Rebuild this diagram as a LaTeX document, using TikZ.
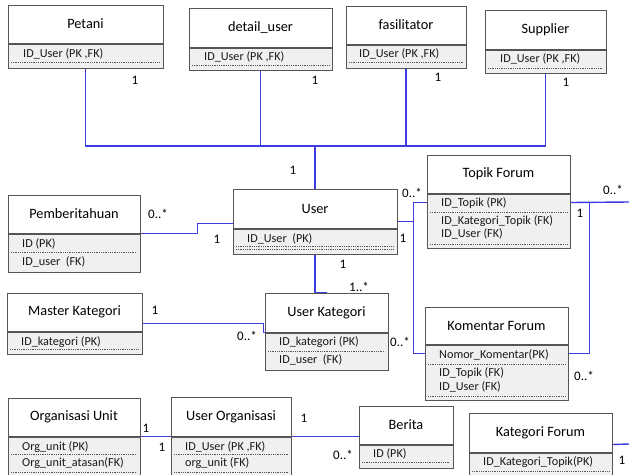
\documentclass[tikz,border=0pt]{standalone}
\usepackage{fontspec}
\setmainfont{Carlito}
\usetikzlibrary{positioning}
\definecolor{boxgray}{RGB}{85,85,85}
\definecolor{bodygray}{RGB}{240,240,240}
\definecolor{linkblue}{RGB}{60,60,225}
\tikzset{
  hdr/.style={draw=boxgray, fill=white, line width=1pt, inner sep=0pt, font=\fontsize{14.3}{16}\selectfont},
  body/.style={draw=boxgray, fill=bodygray, line width=1pt, inner sep=0pt},
  attr/.style={anchor=west, inner sep=0pt, font=\fontsize{12.2}{14}\selectfont, text=black!90},
  dotsep/.style={boxgray, line width=0.6pt, dash pattern=on 1pt off 0.8pt},
  conn/.style={linkblue, line width=1.4pt},
  mult/.style={inner sep=0pt, font=\fontsize{13}{15}\selectfont}
}

\begin{document}
\begin{tikzpicture}[x=1pt, y=-1pt]
    \useasboundingbox (0,0) rectangle (629,474);

    % top row
    \node[hdr, minimum width=155pt, minimum height=38pt] (petani) at (85.5,24) {Petani};
    \node[body, minimum width=155pt, minimum height=24pt, below=0pt of petani] (petani-a) {};
    \node[attr] (petani-1) at (23,54) {ID\_User (PK ,FK)};
    \draw[dotsep] (11,62) -- (160,62);

    \node[hdr, minimum width=143pt, minimum height=39pt] (detail) at (260.5,27.5) {detail\_user};
    \node[body, minimum width=143pt, minimum height=22pt, below=0pt of detail] (detail-a) {};
    \node[attr] (detail-1) at (204,57) {ID\_User (PK ,FK)};
    \draw[dotsep] (192,65) -- (329,65);

    \node[hdr, minimum width=120pt, minimum height=38pt] (fasil) at (406,25) {fasilitator};
    \node[body, minimum width=120pt, minimum height=23pt, below=0pt of fasil] (fasil-a) {};
    \node[attr] (fasil-1) at (359,54) {ID\_User (PK ,FK)};
    \draw[dotsep] (349,62) -- (463,62);

    \node[hdr, minimum width=121pt, minimum height=39pt] (supplier) at (545.5,29.5) {Supplier};
    \node[body, minimum width=121pt, minimum height=23pt, below=0pt of supplier] (supplier-a) {};
    \node[attr] (supplier-1) at (500,59) {ID\_User (PK ,FK)};
    \draw[dotsep] (488,68) -- (603,68);

    % middle
    \node[hdr, minimum width=164pt, minimum height=39pt] (user) at (315,208.5) {User};
    \node[body, minimum width=164pt, minimum height=25pt, below=0pt of user] (user-a) {};
    \node[attr] (user-1) at (247,239) {ID\_User~ (PK)};
    \draw[dotsep] (236,246) -- (394,246);
    \draw[dotsep] (236,249) -- (394,249);

    \node[hdr, minimum width=132pt, minimum height=38pt] (pemb) at (74,214) {Pemberitahuan};
    \node[body, minimum width=132pt, minimum height=38pt, below=0pt of pemb] (pemb-a) {};
    \node[attr] (pemb-1) at (22,244) {ID (PK)};
    \draw[dotsep] (11,252) -- (137,252);
    \node[attr] (pemb-2) at (22,262) {ID\_user~ (FK)};

    \node[hdr, minimum width=143pt, minimum height=38pt] (topik) at (498.5,174) {Topik Forum};
    \node[body, minimum width=143pt, minimum height=54pt, below=0pt of topik] (topik-a) {};
    \node[attr] (topik-1) at (441,203) {ID\_Topik (PK)};
    \draw[dotsep] (430,212) -- (567,212);
    \node[attr] (topik-2) at (441,221) {ID\_Kategori\_Topik (FK)};
    \node[attr] (topik-3) at (441,234) {ID\_User (FK)};
    \draw[dotsep] (430,244) -- (567,244);

    \node[hdr, minimum width=135pt, minimum height=38pt] (master) at (74.5,312) {Master Kategori};
    \node[body, minimum width=135pt, minimum height=22pt, below=0pt of master] (master-a) {};
    \node[attr] (master-1) at (21,342) {ID\_kategori (PK)};
    \draw[dotsep] (10,349) -- (139,349);

    \node[hdr, minimum width=123pt, minimum height=39pt] (ukat) at (326.5,312.5) {User Kategori};
    \node[body, minimum width=123pt, minimum height=37pt, below=0pt of ukat] (ukat-a) {};
    \node[attr] (ukat-1) at (279,342) {ID\_kategori (PK)};
    \draw[dotsep] (268,351) -- (385,351);
    \node[attr] (ukat-2) at (279,360) {ID\_user~ (FK)};

    \node[hdr, minimum width=143pt, minimum height=37pt] (komentar) at (496.5,325.5) {Komentar Forum};
    \node[body, minimum width=143pt, minimum height=55pt, below=0pt of komentar] (komentar-a) {};
    \node[attr] (komentar-1) at (439,355) {Nomor\_Komentar(PK)};
    \draw[dotsep] (428,364) -- (565,364);
    \node[attr] (komentar-2) at (439,373) {ID\_Topik (FK)};
    \node[attr] (komentar-3) at (439,387) {ID\_User (FK)};
    \draw[dotsep] (428,396) -- (565,396);

    % bottom row
    \node[hdr, minimum width=132pt, minimum height=38pt] (orgunit) at (74,417) {Organisasi Unit};
    \node[body, minimum width=132pt, minimum height=44pt, below=0pt of orgunit] (orgunit-a) {};
    \node[attr] (orgunit-1) at (22,447) {Org\_unit (PK)};
    \draw[dotsep] (11,454) -- (137,454);
    \node[attr] (orgunit-2) at (22,463) {Org\_unit\_atasan(FK)};
    \draw[dotsep] (11,472) -- (137,472);

    \node[hdr, minimum width=120pt, minimum height=39pt] (userorg) at (231,416.5) {User Organisasi};
    \node[body, minimum width=120pt, minimum height=44pt, below=0pt of userorg] (userorg-a) {};
    \node[attr] (userorg-1) at (185,447) {ID\_User (PK ,FK)};
    \draw[dotsep] (174,454) -- (288,454);
    \node[attr] (userorg-2) at (185,463) {org\_unit (FK)};
    \draw[dotsep] (174,472) -- (288,472);

    \node[hdr, minimum width=94pt, minimum height=38pt] (berita) at (406,425) {Berita};
    \node[body, minimum width=94pt, minimum height=23pt, below=0pt of berita] (berita-a) {};
    \node[attr] (berita-1) at (373,454) {ID (PK)};
    \draw[dotsep] (362,462) -- (450,462);

    \node[hdr, minimum width=143pt, minimum height=39pt] (katforum) at (540.5,432.5) {Kategori Forum};
    \node[body, minimum width=143pt, minimum height=30pt, below=0pt of katforum] (katforum-a) {};
    \node[attr] (katforum-1) at (483,462) {ID\_Kategori\_Topik(PK)};
    \draw[dotsep] (472,471) -- (609,471);

    % connectors
    \coordinate (bus) at (315,146);
    \draw[conn] (petani-a.south) |- (bus) -| (supplier-a.south);
    \draw[conn] (detail-a.south) -- (detail-a.south |- bus);
    \draw[conn] (fasil-a.south) -- (fasil-a.south |- bus);
    \draw[conn] (bus) -- (user.north);

    \draw[conn] (pemb.south east) -- ++(57,0) -- ++(0,-10) -- ([yshift=5pt]user.south west);

    \draw[conn] ([yshift=-9pt]topik.south west) -- ++(-13,0) coordinate (tk) |- ([yshift=-9pt]komentar.south west);
    \draw[conn] ([yshift=7pt]user.south east) -- ([yshift=7pt]user.south east -| tk);
    \draw[conn] ([yshift=-9pt]topik.south east) -- ++(19,0) |- ([yshift=-9pt]komentar.south east);
    \coordinate (eTop) at (629,202);
    \coordinate (eBot) at (629,444);
    \draw[conn] ([yshift=-9pt]topik.south east) -- (eTop);
    \draw[conn] ([yshift=8pt]katforum.south east) -- (eBot);

    \draw[conn] (user-a.south) -- (user-a.south |- ukat.north) -- ++(12,0);
    \draw[conn] ([yshift=8pt]master.south east) -- ++(121,0) |- (ukat.south west);

    \draw[conn] (orgunit.south east) -- (userorg.south west);
    \draw[conn] (userorg.south east) -- ([yshift=8pt]berita.south west);

    % multiplicities
    \node[mult] (m-petani) at (135,80) {1};
    \node[mult] (m-detail) at (315,80) {1};
    \node[mult] (m-fasil) at (438,77) {1};
    \node[mult] (m-supplier) at (566,82) {1};
    \node[mult] (m-user-top) at (293,170) {1};
    \node[mult] (m-pemb) at (158,214) {0..*};
    \node[mult] (m-user-left) at (217,239) {1};
    \node[mult] (m-topik-left) at (412,193) {0..*};
    \node[mult] (m-user-right) at (403,238) {1};
    \node[mult] (m-komentar-left) at (400,342) {0..*};
    \node[mult] (m-topik-right) at (580,213) {1};
    \node[mult] (m-komentar-right) at (584,376) {0..*};
    \node[mult] (m-topik-edge) at (613,190) {0..*};
    \node[mult] (m-katforum) at (622,460) {1};
    \node[mult] (m-user-bottom) at (343,264) {1};
    \node[mult] (m-ukat-top) at (359,287) {1..*};
    \node[mult] (m-master) at (155,310) {1};
    \node[mult] (m-ukat-left) at (247,336) {0..*};
    \node[mult] (m-orgunit) at (146,428) {1};
    \node[mult] (m-userorg-left) at (162,447) {1};
    \node[mult] (m-userorg-right) at (304,418) {1};
    \node[mult] (m-berita) at (343,455) {0..*};
\end{tikzpicture}
\end{document}
